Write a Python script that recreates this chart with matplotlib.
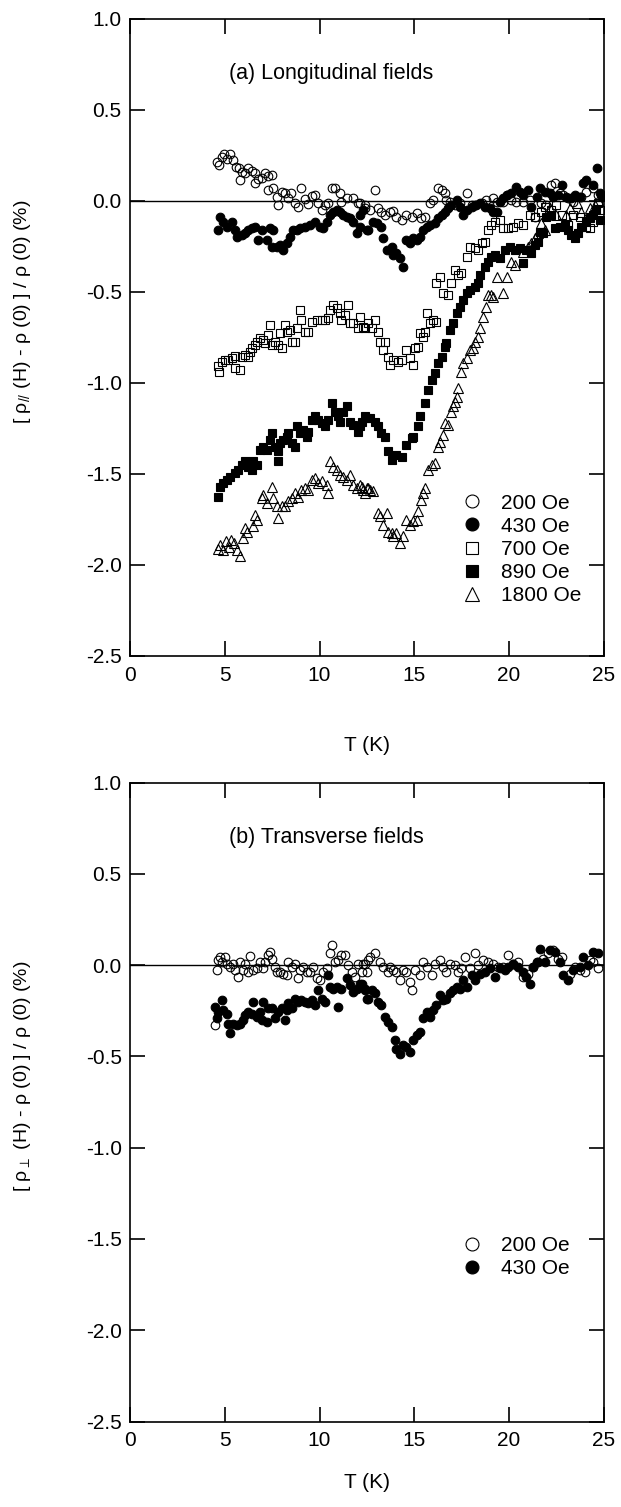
import matplotlib
matplotlib.use("Agg")
import matplotlib.pyplot as plt

plt.rcParams["font.family"] = ["Liberation Sans", "DejaVu Sans"]
plt.rcParams["mathtext.fontset"] = "custom"
plt.rcParams["mathtext.rm"] = "Liberation Sans"
plt.rcParams["mathtext.default"] = "regular"

# (a) longitudinal fields
t200a = [4.57, 4.69, 4.84, 4.96, 5.10, 5.27, 5.45, 5.59, 5.77, 5.80, 5.89, 6.07, 6.24, 6.42,
         6.59, 6.59, 6.77, 6.94, 7.12, 7.30, 7.30, 7.47, 7.56, 7.74, 7.82, 8.00, 8.17, 8.35,
         8.47, 8.70, 8.88, 9.05, 9.23, 9.41, 9.58, 9.76, 9.93, 10.11, 10.29, 10.46, 10.64,
         10.81, 11.08, 11.16, 11.43, 11.78, 12.04, 12.39, 12.13, 12.39, 12.66, 12.92, 13.10,
         13.27, 13.45, 13.71, 13.89, 14.06, 14.33, 14.59, 14.86, 15.12, 15.38, 15.56, 15.82,
         16.00, 16.26, 16.44, 16.61, 16.70, 16.88, 17.14, 17.40, 17.76, 18.02, 18.28, 18.55,
         18.81, 19.16, 19.34, 19.69, 19.87, 20.13, 20.39, 20.74, 21.10, 21.36, 21.71, 21.97,
         22.24, 22.41, 22.68, 22.85, 23.12, 23.38, 23.82, 24.08, 24.44, 24.70]
r200a = [0.216, 0.198, 0.244, 0.258, 0.229, 0.258, 0.225, 0.189, 0.179, 0.115, 0.161, 0.152,
         0.179, 0.167, 0.152, 0.101, 0.119, 0.125, 0.152, 0.137, 0.06, 0.143, 0.07, 0.024,
         -0.022, 0.051, 0.042, 0.015, 0.042, -0.013, -0.031, 0.07, 0.009, -0.016, 0.028, 0.033,
         -0.013, -0.049, -0.022, -0.013, 0.07, 0.07, 0.042, -0.004, 0.015, 0.015, -0.013,
         -0.022, -0.013, -0.04, -0.049, 0.06, -0.04, -0.058, -0.077, -0.058, -0.053, -0.086,
         -0.104, -0.077, -0.086, -0.068, -0.095, -0.086, -0.013, 0.006, 0.07, 0.06, 0.042,
         0.006, -0.004, -0.022, -0.013, 0.042, -0.022, -0.022, -0.013, 0.006, 0.015, -0.004,
         -0.004, 0.033, 0.006, -0.004, -0.004, 0.006, -0.086, -0.013, -0.022, 0.088, 0.097,
         0.042, 0.033, 0.015, -0.004, 0.024, 0.051, 0.07, 0.033]

t430a = [4.66, 4.75, 4.92, 5.10, 5.36, 5.54, 5.63, 5.89, 6.07, 6.24, 6.42, 6.59, 6.77, 6.94,
         7.21, 7.38, 7.56, 7.47, 7.74, 7.91, 8.09, 8.26, 8.44, 8.61, 8.79, 8.97, 9.23, 9.49,
         9.76, 10.02, 10.20, 10.37, 10.55, 10.72, 10.90, 11.08, 11.25, 11.43, 11.60, 11.78,
         11.96, 12.13, 12.48, 12.13, 12.31, 12.57, 12.83, 13.01, 13.27, 13.36, 13.54, 13.80,
         13.89, 14.06, 14.24, 14.42, 14.59, 14.77, 14.94, 15.12, 15.29, 15.47, 15.65, 15.82,
         16.09, 16.26, 16.44, 16.61, 16.79, 16.96, 17.23, 17.40, 17.58, 17.76, 18.02, 18.20,
         18.46, 18.72, 18.99, 19.16, 19.34, 19.51, 19.69, 19.87, 20.13, 20.39, 20.57, 20.74,
         21.01, 21.18, 21.45, 21.62, 21.89, 22.15, 22.33, 22.59, 22.77, 23.03, 23.29, 23.47,
         23.73, 23.91, 24.08, 24.44, 24.65, 24.79, 24.88]
r430a = [-0.159, -0.086, -0.113, -0.141, -0.113, -0.159, -0.196, -0.187, -0.177, -0.159,
         -0.150, -0.141, -0.214, -0.159, -0.214, -0.150, -0.159, -0.251, -0.251, -0.241,
         -0.269, -0.232, -0.196, -0.159, -0.159, -0.150, -0.141, -0.132, -0.113, -0.141,
         -0.150, -0.113, -0.077, -0.058, -0.049, -0.058, -0.077, -0.086, -0.095, -0.113,
         -0.177, -0.141, -0.159, -0.077, -0.049, -0.159, -0.113, -0.123, -0.141, -0.205,
         -0.269, -0.251, -0.296, -0.287, -0.315, -0.36, -0.214, -0.232, -0.205, -0.214,
         -0.196, -0.159, -0.141, -0.132, -0.123, -0.095, -0.077, -0.058, -0.040, -0.022,
         0.006, -0.031, -0.077, -0.049, -0.031, -0.022, -0.013, -0.031, -0.040, -0.058,
         -0.058, -0.004, 0.015, 0.033, 0.042, 0.079, 0.051, 0.033, 0.06, -0.031, 0.024, 0.07,
         0.051, 0.042, 0.024, 0.033, 0.088, 0.024, 0.015, 0.033, 0.024, 0.097, 0.115, 0.088,
         0.179, 0.042, 0.024]

t700a = [4.66, 4.71, 4.84, 5.01, 5.19, 5.36, 5.54, 5.54, 5.80, 5.89, 6.07, 6.24, 6.33, 6.42,
         6.59, 6.68, 6.86, 7.03, 7.12, 7.30, 7.38, 7.47, 7.65, 7.82, 7.91, 8.00, 8.17, 8.26,
         8.44, 8.53, 8.70, 8.79, 8.97, 9.05, 9.23, 9.41, 9.58, 9.85, 10.11, 10.29, 10.46,
         10.55, 10.72, 10.90, 11.08, 11.16, 11.34, 11.52, 11.60, 11.78, 12.04, 12.13, 12.39,
         12.57, 12.31, 12.75, 12.92, 13.10, 13.18, 13.36, 13.45, 13.62, 13.71, 13.89, 14.15,
         14.33, 14.59, 14.77, 14.94, 15.03, 15.21, 15.29, 15.47, 15.56, 15.65, 15.82, 16.00,
         16.17, 16.17, 16.35, 16.53, 16.79, 16.96, 17.14, 17.32, 17.49, 17.76, 17.93, 18.20,
         18.37, 18.55, 18.72, 18.90, 19.07, 19.25, 19.51, 19.69, 19.95, 20.22, 20.48, 20.74,
         21.10, 21.36, 21.71, 21.89, 22.24, 22.50, 22.77, 23.12, 23.38, 23.73, 24.08, 24.26,
         24.44, 24.70, 24.79]
r700a = [-0.906, -0.937, -0.882, -0.873, -0.873, -0.864, -0.851, -0.919, -0.928, -0.855,
         -0.846, -0.855, -0.827, -0.809, -0.791, -0.773, -0.754, -0.763, -0.782, -0.736,
         -0.681, -0.791, -0.773, -0.791, -0.727, -0.809, -0.681, -0.718, -0.709, -0.773,
         -0.773, -0.699, -0.599, -0.654, -0.718, -0.718, -0.663, -0.654, -0.654, -0.654,
         -0.644, -0.599, -0.571, -0.590, -0.617, -0.654, -0.626, -0.571, -0.672, -0.672,
         -0.699, -0.635, -0.699, -0.672, -0.690, -0.699, -0.654, -0.718, -0.773, -0.818,
         -0.773, -0.855, -0.901, -0.873, -0.882, -0.873, -0.818, -0.864, -0.901, -0.809,
         -0.800, -0.727, -0.745, -0.718, -0.617, -0.672, -0.654, -0.663, -0.452, -0.415,
         -0.507, -0.516, -0.452, -0.379, -0.406, -0.397, -0.306, -0.251, -0.260, -0.269,
         -0.232, -0.223, -0.159, -0.132, -0.113, -0.104, -0.150, -0.150, -0.141, -0.123,
         -0.132, -0.077, -0.086, -0.058, -0.031, -0.049, -0.022, -0.077, -0.132, -0.077,
         -0.086, -0.141, -0.150, -0.113, -0.013, -0.049]

t890a = [4.66, 4.75, 4.92, 5.10, 5.27, 5.54, 5.71, 5.89, 6.07, 6.24, 6.42, 6.51, 6.68, 6.86,
         7.03, 7.21, 7.38, 7.47, 7.65, 7.82, 7.82, 7.91, 8.09, 8.26, 8.35, 8.53, 8.70, 8.79,
         8.97, 9.14, 9.32, 9.41, 9.58, 9.76, 9.93, 10.11, 10.29, 10.46, 10.64, 10.81, 10.99,
         11.08, 11.25, 11.43, 11.60, 11.78, 12.04, 12.22, 12.48, 12.13, 12.39, 12.66, 12.92,
         13.10, 13.27, 13.45, 13.62, 13.80, 14.06, 14.33, 14.59, 14.86, 14.94, 15.21, 15.29,
         15.56, 15.73, 15.91, 16.09, 16.26, 16.44, 16.61, 16.70, 16.88, 17.05, 17.23, 17.40,
         17.58, 17.76, 17.93, 18.20, 18.37, 18.46, 18.72, 18.90, 19.07, 19.25, 19.51, 19.78,
         20.04, 20.30, 20.57, 20.74, 20.92, 21.18, 21.36, 21.54, 21.62, 21.80, 21.97, 22.24,
         22.41, 22.68, 22.94, 23.12, 23.29, 23.47, 23.64, 23.82, 24.08, 24.26, 24.44, 24.61,
         24.79]
r890a = [-1.624, -1.569, -1.550, -1.532, -1.514, -1.495, -1.477, -1.450, -1.431, -1.459,
         -1.477, -1.431, -1.450, -1.367, -1.349, -1.367, -1.312, -1.276, -1.349, -1.376,
         -1.431, -1.331, -1.312, -1.294, -1.276, -1.331, -1.349, -1.239, -1.276, -1.258,
         -1.294, -1.267, -1.203, -1.184, -1.203, -1.221, -1.239, -1.203, -1.111, -1.157,
         -1.184, -1.212, -1.157, -1.129, -1.212, -1.230, -1.267, -1.212, -1.193, -1.239,
         -1.184, -1.193, -1.212, -1.239, -1.276, -1.294, -1.376, -1.422, -1.395, -1.404,
         -1.340, -1.303, -1.294, -1.239, -1.184, -1.111, -1.038, -0.983, -0.946, -0.892,
         -0.855, -0.800, -0.782, -0.709, -0.672, -0.617, -0.580, -0.544, -0.507, -0.489,
         -0.471, -0.452, -0.406, -0.360, -0.333, -0.306, -0.296, -0.315, -0.269, -0.251,
         -0.269, -0.260, -0.342, -0.269, -0.287, -0.241, -0.223, -0.168, -0.177, -0.086,
         -0.077, -0.150, -0.141, -0.132, -0.159, -0.187, -0.205, -0.177, -0.141, -0.113,
         -0.095, -0.077, -0.049, -0.104]

t1800a = [4.62, 4.75, 4.90, 5.05, 5.20, 5.35, 5.50, 5.65, 5.80, 5.95, 6.07, 6.20, 6.51, 6.59,
          6.68, 6.94, 7.03, 7.21, 7.47, 7.56, 7.74, 7.82, 8.00, 8.17, 8.35, 8.53, 8.70, 8.88,
          9.05, 9.23, 9.41, 9.58, 9.76, 9.93, 10.11, 10.37, 10.46, 10.55, 10.72, 10.90, 11.08,
          11.25, 11.43, 11.60, 11.78, 11.96, 12.22, 12.39, 12.57, 12.13, 12.31, 12.48, 12.66,
          12.83, 13.10, 13.18, 13.36, 13.54, 13.62, 13.80, 13.89, 14.06, 14.24, 14.42, 14.59,
          14.77, 14.94, 15.12, 15.21, 15.38, 15.47, 15.56, 15.73, 15.91, 16.09, 16.26, 16.35,
          16.53, 16.61, 16.79, 16.96, 17.05, 17.14, 17.23, 17.32, 17.49, 17.58, 17.76, 17.93,
          18.11, 18.20, 18.37, 18.46, 18.63, 18.81, 18.90, 19.07, 19.16, 19.34, 19.69, 19.87,
          20.13, 20.30, 20.74, 21.01, 21.18, 21.36, 21.54, 21.71, 21.89, 22.15, 22.50, 23.03,
          23.21, 23.56, 23.82, 24.26, 24.52, 24.70]
r1800a = [-1.91, -1.89, -1.92, -1.87, -1.90, -1.86, -1.88, -1.92, -1.95, -1.85, -1.797,
          -1.82, -1.788, -1.724, -1.752, -1.633, -1.614, -1.660, -1.569, -1.633, -1.678,
          -1.742, -1.678, -1.678, -1.651, -1.633, -1.605, -1.624, -1.587, -1.578, -1.587,
          -1.532, -1.523, -1.550, -1.541, -1.559, -1.605, -1.431, -1.459, -1.477, -1.505,
          -1.514, -1.532, -1.505, -1.559, -1.578, -1.569, -1.605, -1.578, -1.559, -1.587,
          -1.578, -1.587, -1.596, -1.715, -1.733, -1.779, -1.715, -1.816, -1.825, -1.843,
          -1.825, -1.880, -1.843, -1.752, -1.779, -1.761, -1.752, -1.706, -1.642, -1.605,
          -1.578, -1.477, -1.450, -1.441, -1.349, -1.322, -1.285, -1.221, -1.230, -1.157,
          -1.129, -1.102, -1.075, -1.029, -0.937, -0.892, -0.864, -0.818, -0.809, -0.773,
          -0.745, -0.699, -0.635, -0.580, -0.516, -0.516, -0.525, -0.415, -0.507, -0.415,
          -0.333, -0.351, -0.278, -0.251, -0.232, -0.205, -0.177, -0.123, -0.159, -0.040,
          -0.077, -0.077, -0.040, -0.013, -0.058, -0.040, -0.022, 0.006]

# (b) transverse fields
t200b = [4.48, 4.57, 4.66, 4.75, 4.84, 5.01, 5.10, 5.27, 5.45, 5.54, 5.71, 5.80, 5.98, 6.07,
         6.24, 6.33, 6.51, 6.68, 6.86, 7.03, 7.12, 7.30, 7.38, 7.47, 7.65, 7.74, 7.91, 8.09,
         8.26, 8.35, 8.53, 8.70, 8.88, 8.97, 9.14, 9.32, 9.49, 9.67, 9.85, 10.02, 10.20,
         10.37, 10.55, 10.64, 10.81, 10.99, 11.16, 11.34, 11.52, 11.69, 11.87, 12.04, 12.22,
         12.39, 12.57, 12.31, 12.48, 12.66, 12.92, 13.18, 13.36, 13.62, 13.71, 13.89, 14.06,
         14.24, 14.42, 14.59, 14.77, 14.86, 15.03, 15.29, 15.47, 15.65, 15.91, 16.09, 16.35,
         16.53, 16.70, 16.88, 17.14, 17.32, 17.49, 17.67, 17.93, 18.20, 18.37, 18.63, 18.90,
         19.16, 19.43, 19.69, 19.95, 20.22, 20.48, 20.74, 21.01, 21.27, 21.54, 21.80, 22.06,
         22.33, 22.59, 22.77, 23.21, 23.47, 23.73, 24.00, 24.26, 24.44, 24.70]
r200b = [-0.329, -0.027, 0.027, 0.046, 0.018, 0.042, 0.009, -0.009, 0.009, -0.027, -0.064,
         0.018, -0.027, 0.009, -0.037, 0.049, -0.027, -0.018, 0.018, -0.018, 0.018, 0.055,
         0.073, 0.036, -0.009, -0.037, -0.037, -0.046, -0.055, 0.018, -0.009, 0.009, -0.073,
         -0.027, -0.009, -0.037, -0.037, -0.009, -0.073, -0.082, -0.037, -0.018, 0.064, 0.110,
         0.018, 0.027, 0.055, 0.055, 0.000, -0.037, -0.064, 0.009, -0.037, 0.009, 0.027,
         0.009, -0.037, 0.046, 0.064, 0.018, -0.009, -0.037, -0.009, -0.027, -0.037, -0.082,
         -0.027, -0.037, -0.091, -0.137, -0.027, -0.055, 0.018, -0.009, -0.055, 0.009, 0.027,
         -0.009, -0.037, 0.009, 0.000, -0.037, -0.018, 0.046, -0.018, 0.064, 0.000, 0.027,
         0.018, 0.009, -0.009, -0.009, 0.055, 0.009, 0.018, -0.064, -0.046, -0.009, 0.018,
         0.036, 0.064, 0.082, 0.036, 0.046, -0.046, -0.009, -0.027, -0.037, 0.027, 0.018,
         -0.018]

t430b = [4.48, 4.57, 4.66, 4.84, 4.92, 5.10, 5.19, 5.27, 5.45, 5.63, 5.80, 5.98, 6.07, 6.24,
         6.42, 6.51, 6.68, 6.86, 6.94, 7.03, 7.21, 7.30, 7.47, 7.65, 7.82, 8.00, 8.17, 8.26,
         8.35, 8.53, 8.70, 8.88, 9.05, 9.23, 9.41, 9.58, 9.76, 9.93, 10.11, 10.29, 10.46,
         10.55, 10.72, 10.90, 10.99, 11.16, 11.43, 11.60, 11.78, 11.96, 12.13, 12.39, 12.48,
         12.22, 12.39, 12.57, 12.75, 12.92, 13.10, 13.27, 13.45, 13.62, 13.80, 13.98, 14.06,
         14.24, 14.42, 14.59, 14.77, 14.94, 15.12, 15.29, 15.47, 15.65, 15.82, 16.00, 16.17,
         16.35, 16.53, 16.70, 16.88, 17.05, 17.23, 17.40, 17.58, 17.76, 18.02, 18.20, 18.46,
         18.72, 18.99, 19.25, 19.51, 19.78, 19.95, 20.22, 20.48, 20.74, 20.92, 21.10, 21.27,
         21.45, 21.62, 21.89, 22.15, 22.41, 22.68, 22.85, 23.12, 23.38, 23.73, 23.91, 24.17,
         24.44, 24.70]
r430b = [-0.228, -0.292, -0.256, -0.192, -0.247, -0.265, -0.320, -0.374, -0.320, -0.329,
         -0.320, -0.301, -0.274, -0.256, -0.265, -0.201, -0.283, -0.256, -0.301, -0.201,
         -0.310, -0.237, -0.237, -0.292, -0.256, -0.237, -0.301, -0.247, -0.210, -0.237,
         -0.183, -0.201, -0.192, -0.201, -0.210, -0.192, -0.219, -0.137, -0.183, -0.201,
         -0.055, -0.119, -0.128, -0.119, -0.228, -0.128, -0.073, -0.110, -0.146, -0.128,
         -0.101, -0.137, -0.183, -0.101, -0.128, -0.183, -0.137, -0.155, -0.201, -0.219,
         -0.283, -0.310, -0.338, -0.411, -0.457, -0.484, -0.438, -0.447, -0.475, -0.411,
         -0.384, -0.365, -0.292, -0.256, -0.283, -0.247, -0.219, -0.164, -0.192, -0.183,
         -0.155, -0.137, -0.119, -0.128, -0.082, -0.119, -0.055, -0.082, -0.046, -0.037,
         -0.018, -0.064, -0.018, -0.027, -0.009, 0.009, -0.009, -0.037, -0.064, -0.101,
         -0.009, 0.018, 0.091, 0.018, 0.082, 0.073, 0.018, -0.055, -0.082, -0.027, -0.009,
         0.046, 0.000, 0.073, 0.064]

labels_a = ["200 Oe", "430 Oe", "700 Oe", "890 Oe", "1800 Oe"]
labels_b = ["200 Oe", "430 Oe"]

fig = plt.figure(figsize=(6.21, 15.07), dpi=100)
ax1 = fig.add_axes([0.2093, 0.5647, 0.763, 0.4227])
ax2 = fig.add_axes([0.2093, 0.0567, 0.763, 0.4240])

ms = 6.2
mew = 0.8
ax1.plot(t200a, r200a, ls="none", marker="o", ms=ms, mew=mew, mec="k", mfc="none", label=labels_a[0])
ax1.plot(t430a, r430a, ls="none", marker="o", ms=ms, mew=mew, mec="k", mfc="k", label=labels_a[1])
ax1.plot(t700a, r700a, ls="none", marker="s", ms=5.6, mew=mew, mec="k", mfc="none", label=labels_a[2])
ax1.plot(t890a, r890a, ls="none", marker="s", ms=5.6, mew=mew, mec="k", mfc="k", label=labels_a[3])
ax1.plot(t1800a, r1800a, ls="none", marker="^", ms=6.6, mew=mew, mec="k", mfc="none", label=labels_a[4])

ax2.plot(t200b, r200b, ls="none", marker="o", ms=ms, mew=mew, mec="k", mfc="none", label=labels_b[0])
ax2.plot(t430b, r430b, ls="none", marker="o", ms=ms, mew=mew, mec="k", mfc="k", label=labels_b[1])

ylabels = ["[ ρ$_{//}$ (H) - ρ (0) ] / ρ (0) (%)", "[ ρ$_{\\perp}$ (H) - ρ (0) ] / ρ (0) (%)"]
titles = ["(a) Longitudinal fields", "(b) Transverse fields"]
leg_y = [0.255, 0.29]
xlab_y = [-0.125, -0.08]

for ax, yl, tt, ly, xy in zip([ax1, ax2], ylabels, titles, leg_y, xlab_y):
    ax.axhline(0, color="k", lw=1.0, zorder=1)
    ax.set_xlim(0, 25)
    ax.set_ylim(-2.5, 1.0)
    ax.set_xticks([0, 5, 10, 15, 20, 25])
    ax.set_yticks([-2.5, -2.0, -1.5, -1.0, -0.5, 0.0, 0.5, 1.0])
    ax.set_yticklabels(["-2.5", "-2.0", "-1.5", "-1.0", "-0.5", "0.0", "0.5", "1.0"])
    ax.tick_params(direction="in", top=True, right=True, length=11, width=1.2, labelsize=15)
    ax.tick_params(axis="x", pad=7)
    ax.tick_params(axis="y", pad=6)
    for s in ax.spines.values():
        s.set_linewidth(1.2)
    ax.set_xlabel("T (K)", fontsize=15)
    ax.xaxis.set_label_coords(0.5, xy)
    ax.set_ylabel(yl, fontsize=14)
    ax.yaxis.set_label_coords(-0.205, 0.54)
    ax.text(5.2, 0.70, tt, fontsize=15.5, va="center", ha="left")
    ax.legend(loc="upper left", bbox_to_anchor=(0.70, ly), frameon=False, fontsize=15,
              markerscale=1.5, handlelength=1.0, handletextpad=0.9, borderpad=0,
              borderaxespad=0, labelspacing=0.2)

fig.savefig("out.png", dpi=100)
